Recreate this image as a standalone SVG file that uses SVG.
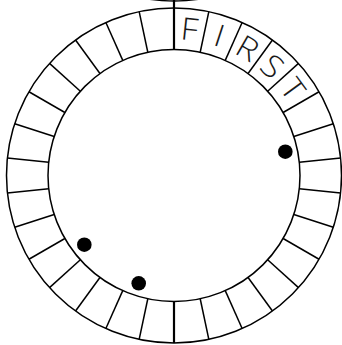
<svg xmlns="http://www.w3.org/2000/svg" width="342" height="345" viewBox="0 0 342 345">
<defs>
<style>
.ring{fill:none;stroke:#000;stroke-width:1.5}
.div{stroke:#000;stroke-width:1.5}
.axis{stroke:#000;stroke-width:2.2}
.dot{fill:#000}
.lt{font-family:"Open Sans","Lato","DejaVu Sans",sans-serif;font-weight:350;font-size:31px;fill:#1a1a1a;text-anchor:middle}
</style>
<line id="d" class="div" x1="0" y1="-126" x2="0" y2="-167.5"/>
</defs>
<rect width="342" height="345" fill="#fff"/>
<g id="top-ring"><circle class="ring" cx="174" cy="-166.5" r="167.5"/></g>
<g id="ring">
<circle class="ring" cx="174" cy="175.5" r="167.5"/>
<circle class="ring" cx="174" cy="175.5" r="126"/>
</g>
<g id="connectors" transform="translate(174 175.5)">
<use href="#d" transform="rotate(12)"/><use href="#d" transform="rotate(24)"/><use href="#d" transform="rotate(36)"/><use href="#d" transform="rotate(48)"/><use href="#d" transform="rotate(60)"/><use href="#d" transform="rotate(72)"/><use href="#d" transform="rotate(84)"/><use href="#d" transform="rotate(96)"/><use href="#d" transform="rotate(108)"/><use href="#d" transform="rotate(120)"/><use href="#d" transform="rotate(132)"/><use href="#d" transform="rotate(144)"/><use href="#d" transform="rotate(156)"/><use href="#d" transform="rotate(168)"/>
<use href="#d" transform="rotate(192)"/><use href="#d" transform="rotate(204)"/><use href="#d" transform="rotate(216)"/><use href="#d" transform="rotate(228)"/><use href="#d" transform="rotate(240)"/><use href="#d" transform="rotate(252)"/><use href="#d" transform="rotate(264)"/><use href="#d" transform="rotate(276)"/><use href="#d" transform="rotate(288)"/><use href="#d" transform="rotate(300)"/><use href="#d" transform="rotate(312)"/><use href="#d" transform="rotate(324)"/><use href="#d" transform="rotate(336)"/><use href="#d" transform="rotate(348)"/>
<line class="axis" x1="0" y1="-175.5" x2="0" y2="-126"/>
<line class="axis" x1="0" y1="126" x2="0" y2="167.5"/>
</g>
<g id="letters" transform="translate(174 175.5)">
<g id="F" transform="rotate(6) scale(1.1 1)"><text class="lt" x="0" y="-136">F</text></g>
<g id="I" transform="rotate(18) scale(1.1 1)"><text class="lt" x="0" y="-136">I</text></g>
<g id="R" transform="rotate(30) scale(1.1 1)"><text class="lt" x="0" y="-136">R</text></g>
<g id="S" transform="rotate(42) scale(1.1 1)"><text class="lt" x="0" y="-136">S</text></g>
<g id="T" transform="rotate(54) scale(1.1 1)"><text class="lt" x="0" y="-136">T</text></g>
</g>
<g id="dots">
<circle id="dot1" class="dot" cx="285.3" cy="151.7" r="7.3"/>
<circle id="dot2" class="dot" cx="84.3" cy="244.7" r="7.3"/>
<circle id="dot3" class="dot" cx="138.7" cy="283.3" r="7.3"/>
</g>
</svg>
